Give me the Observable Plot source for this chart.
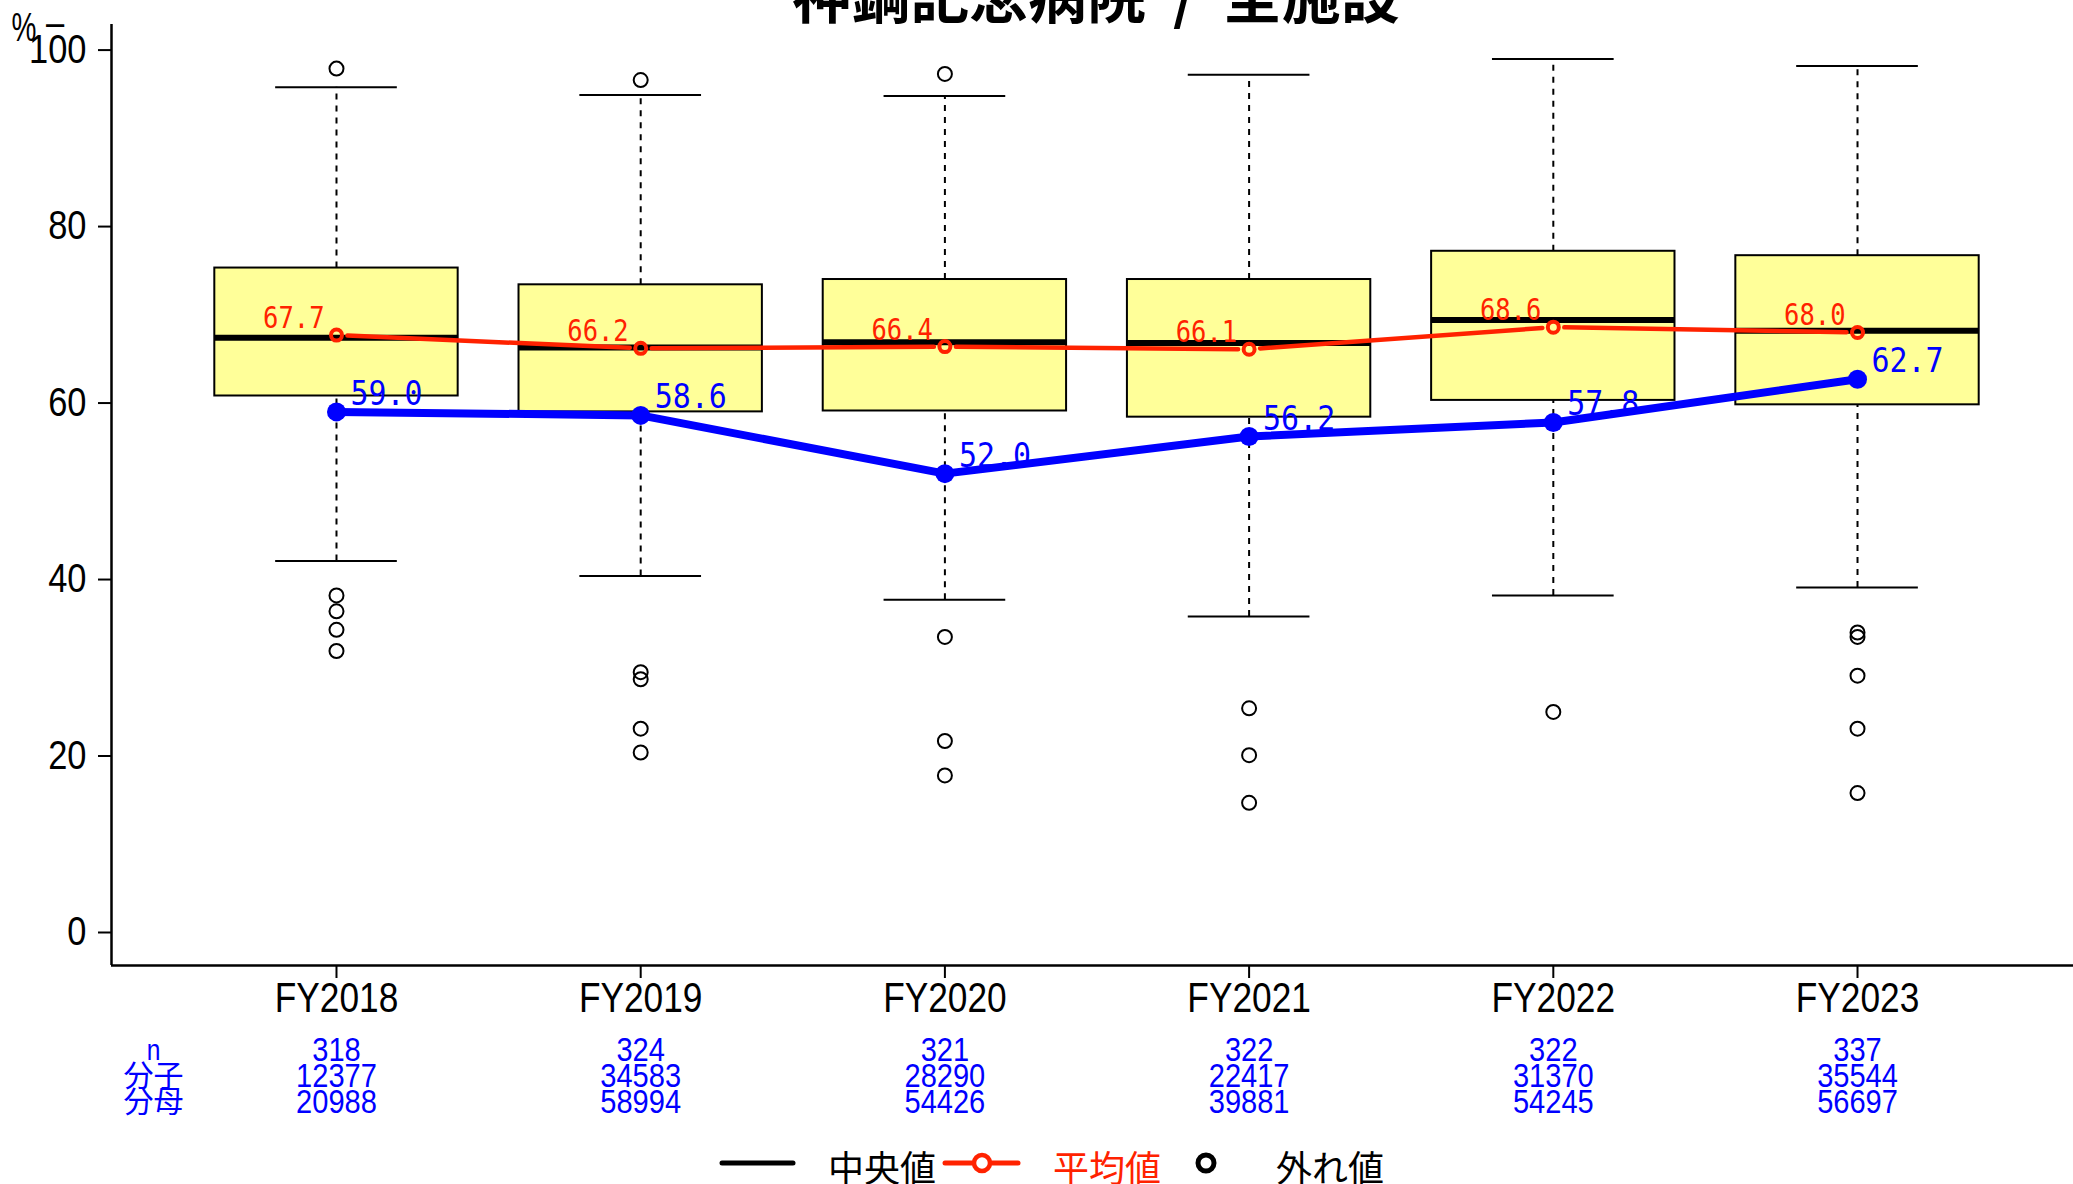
<!DOCTYPE html>
<html><head><meta charset="utf-8">
<script src="https://cdn.jsdelivr.net/npm/d3@7"></script>
<script src="https://cdn.jsdelivr.net/npm/@observablehq/plot@0.6"></script>
<style>
html,body{margin:0;padding:0;background:#fff;}
#wrap{position:relative;width:2073px;height:1184px;overflow:hidden;background:#fff;}
#wrap > svg{position:absolute;left:0;top:0;}
</style></head><body><div id="wrap"></div>
<script>
// ---- data ----
const years = ["FY2018", "FY2019", "FY2020", "FY2021", "FY2022", "FY2023"];
const nCount = [318, 324, 321, 322, 322, 337];
const numerators = [12377, 34583, 28290, 22417, 31370, 35544];
const denominators = [20988, 58994, 54426, 39881, 54245, 56697];
const overallRate = [59.0, 58.6, 52.0, 56.2, 57.8, 62.7];
const meanRate = [67.7, 66.2, 66.4, 66.1, 68.6, 68.0];
const q1 = [60.8, 59.0, 59.1, 58.4, 60.3, 59.8];
const median = [67.4, 66.3, 66.9, 66.8, 69.4, 68.2];
const q3 = [75.3, 73.4, 74.0, 74.0, 77.2, 76.7];
const whiskerLow = [42.1, 40.4, 37.7, 35.8, 38.2, 39.1];
const whiskerHigh = [95.8, 94.9, 94.8, 97.2, 99.0, 98.2];
const outliers = [
  [97.9, 38.2, 36.4, 34.3, 31.9],
  [96.6, 29.5, 28.7, 23.1, 20.4],
  [97.3, 33.5, 21.7, 17.8],
  [25.4, 20.1, 14.7],
  [25.0],
  [34.0, 33.5, 29.1, 23.1, 15.8]
];
const yTicks = [0, 20, 40, 60, 80, 100];
const rowLabels = ["n", "分子", "分母"];
const titleText = "神鋼記念病院  /  全施設";
const legendLabels = ["中央値", "平均値", "外れ値"];

// ---- derived tables ----
const rows = years.map((year, k) => ({
  i: k + 1, year, n: nCount[k], num: numerators[k], den: denominators[k],
  overall: overallRate[k], mean: meanRate[k],
  q1: q1[k], med: median[k], q3: q3[k], lo: whiskerLow[k], hi: whiskerHigh[k]
}));
const outlierRows = outliers.flatMap((vs, k) => vs.map(v => ({i: k + 1, v})));
const meanSegs = rows.slice(1).map((d, k) => ({x1: rows[k].i, y1: rows[k].mean, x2: d.i, y2: d.mean}));

const SANS = '"Liberation Sans",Arial,sans-serif';
const MONO = '"DejaVu Sans Mono","Liberation Mono",monospace';
const CJK = '"Noto Sans CJK JP","Noto Sans CJK SC",sans-serif';
const RED = "#FF2200", BLUE = "#0000FF";
const xDomain = [0.2604, 6.710];
const yDomain = [-3.74, 102.9];

const chart = Plot.plot({
  width: 2073, height: 1184,
  marginLeft: 111, marginRight: 0, marginTop: 24, marginBottom: 219,
  style: {fontFamily: SANS, background: "white", color: "black"},
  x: {type: "linear", domain: xDomain, axis: null},
  y: {domain: yDomain, axis: null},
  marks: [
    Plot.axisY(yTicks, {tickSize: 13, strokeWidth: 2, tickFormat: () => ""}),
    Plot.axisX(rows.map(d => d.i), {tickSize: 13, strokeWidth: 2, tickFormat: () => ""}),
    Plot.text(yTicks, {y: d => d, text: d => String(d), frameAnchor: "left", textAnchor: "end", dx: -25, fontSize: 40, lineAnchor: "middle"}),
    Plot.text(rows, {x: "i", text: "year", frameAnchor: "bottom", lineAnchor: "top", dy: 16, fontSize: 43}),
    Plot.ruleX([xDomain[0]], {strokeWidth: 2.5}),
    Plot.ruleY([yDomain[0]], {strokeWidth: 2.5}),
    // whiskers
    Plot.ruleX(rows, {x: "i", y1: "q3", y2: "hi", strokeWidth: 2, strokeDasharray: "6,6"}),
    Plot.ruleX(rows, {x: "i", y1: "lo", y2: "q1", strokeWidth: 2, strokeDasharray: "6,6"}),
    Plot.ruleY(rows, {y: "hi", x1: d => d.i - 0.2, x2: d => d.i + 0.2, strokeWidth: 2}),
    Plot.ruleY(rows, {y: "lo", x1: d => d.i - 0.2, x2: d => d.i + 0.2, strokeWidth: 2}),
    // boxes
    Plot.rect(rows, {x1: d => d.i - 0.4, x2: d => d.i + 0.4, y1: "q1", y2: "q3", fill: "#FFFF99", stroke: "black", strokeWidth: 2}),
    Plot.ruleY(rows, {y: "med", x1: d => d.i - 0.4, x2: d => d.i + 0.4, strokeWidth: 6}),
    // outliers
    Plot.dot(outlierRows, {x: "i", y: "v", r: 7, stroke: "black", strokeWidth: 2, fill: "none"}),
    // mean line
    Plot.arrow(meanSegs, {x1: "x1", y1: "y1", x2: "x2", y2: "y2", stroke: RED, strokeWidth: 4.5, headLength: 0, insetStart: 11, insetEnd: 11}),
    Plot.dot(rows, {x: "i", y: "mean", r: 5.5, stroke: RED, strokeWidth: 4, fill: "none"}),
    Plot.text(rows, {x: "i", y: "mean", text: d => d.mean.toFixed(1), textAnchor: "end", lineAnchor: "bottom", dx: -12, dy: -7, fill: RED, fontSize: 30, fontFamily: MONO}),
    // overall line
    Plot.line(rows, {x: "i", y: "overall", stroke: BLUE, strokeWidth: 8}),
    Plot.dot(rows, {x: "i", y: "overall", r: 9.5, fill: BLUE}),
    Plot.text(rows, {x: "i", y: "overall", text: d => d.overall.toFixed(1), textAnchor: "start", lineAnchor: "bottom", dx: 14, dy: -7, fill: BLUE, fontSize: 34, fontFamily: MONO}),
    // count table
    Plot.text(rows, {x: "i", text: d => String(d.n), frameAnchor: "bottom", dy: 85, fill: BLUE, fontSize: 33, lineAnchor: "middle"}),
    Plot.text(rows, {x: "i", text: d => String(d.num), frameAnchor: "bottom", dy: 111, fill: BLUE, fontSize: 33, lineAnchor: "middle"}),
    Plot.text(rows, {x: "i", text: d => String(d.den), frameAnchor: "bottom", dy: 137, fill: BLUE, fontSize: 33, lineAnchor: "middle"}),
    ...rowLabels.map((t, k) => Plot.text([t], {frameAnchor: "bottom-left", textAnchor: "middle", dx: 42, dy: 85 + 26 * k, fill: BLUE, fontSize: 30, lineAnchor: "middle", fontFamily: '"Liberation Sans","Noto Sans CJK JP",sans-serif'}))
  ]
});
document.getElementById("wrap").appendChild(chart);

// condense Latin text horizontally (narrow-font look) using textLength
function condense(t, k) {
  const w = t.getComputedTextLength();
  if (w > 0) {
    t.setAttribute("textLength", (w * k).toFixed(2));
    t.setAttribute("lengthAdjust", "spacingAndGlyphs");
  }
}
chart.querySelectorAll("text").forEach(t => {
  const s = t.textContent;
  if (!s || /[\u3000-\u9fff]/.test(s)) return;
  const cs = getComputedStyle(t);
  let k = 0.82;
  if (/Mono/.test(cs.fontFamily)) k = /rgb\(255/.test(cs.fill) ? 0.85 : 0.88;
  else if (cs.fontSize === "33px") k = 0.88;
  else if (cs.fontSize === "40px") k = 0.86;
  condense(t, k);
});

// ---- overlay: title, unit label, legend ----
const ov = d3.select("#wrap").append("svg").attr("width", 2073).attr("height", 1184)
  .style("position", "absolute").style("left", 0).style("top", 0);
ov.append("text").attr("x", 1096).attr("y", 18).attr("text-anchor", "middle")
  .style("white-space", "pre").attr("font-family", CJK).attr("font-weight", "bold").attr("font-size", 59)
  .text(titleText);
const pct = ov.append("text").attr("x", 24).attr("y", 41).attr("text-anchor", "middle")
  .attr("font-family", SANS).attr("font-size", 40).text("%");
const dash = ov.append("text").attr("x", 55).attr("y", 36).attr("text-anchor", "middle")
  .attr("font-family", SANS).attr("font-size", 40).text("–");
condense(pct.node(), 0.7);
condense(dash.node(), 0.82);

const ly = 1163;
ov.append("line").attr("x1", 722).attr("x2", 793).attr("y1", ly).attr("y2", ly)
  .attr("stroke", "black").attr("stroke-width", 5).attr("stroke-linecap", "round");
ov.append("text").attr("x", 828).attr("y", ly + 3).attr("dominant-baseline", "central")
  .attr("font-family", CJK).attr("font-size", 36).text(legendLabels[0]);
ov.append("line").attr("x1", 945).attr("x2", 1018).attr("y1", ly).attr("y2", ly)
  .attr("stroke", RED).attr("stroke-width", 5).attr("stroke-linecap", "round");
ov.append("circle").attr("cx", 982).attr("cy", ly).attr("r", 8)
  .attr("stroke", RED).attr("stroke-width", 4.5).attr("fill", "white");
ov.append("text").attr("x", 1053).attr("y", ly + 3).attr("dominant-baseline", "central")
  .attr("font-family", CJK).attr("font-size", 36).attr("fill", RED).text(legendLabels[1]);
ov.append("circle").attr("cx", 1206).attr("cy", ly).attr("r", 8)
  .attr("stroke", "black").attr("stroke-width", 5).attr("fill", "none");
ov.append("text").attr("x", 1276).attr("y", ly + 3).attr("dominant-baseline", "central")
  .attr("font-family", CJK).attr("font-size", 36).text(legendLabels[2]);
</script></body></html>
